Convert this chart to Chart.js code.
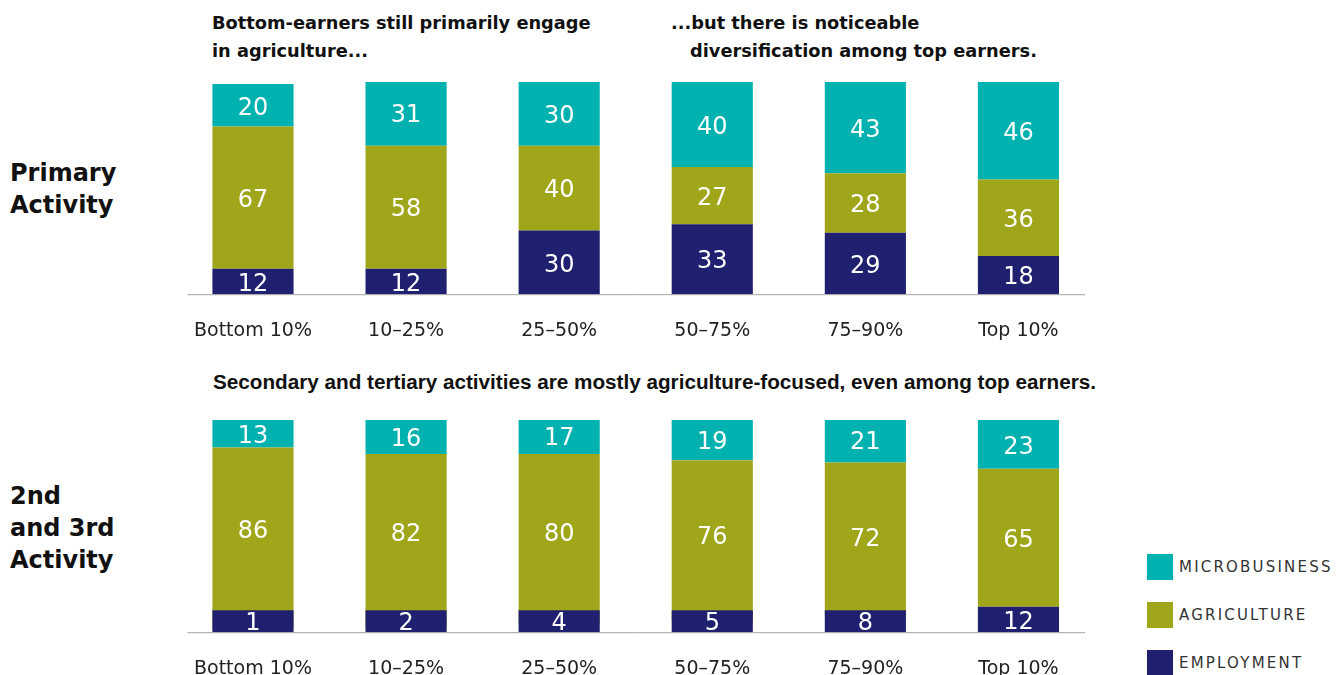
<!DOCTYPE html>
<html>
<head>
<meta charset="utf-8">
<script src="https://cdn.jsdelivr.net/npm/chart.js@4/dist/chart.umd.min.js"></script>
<style>
  html, body { margin: 0; padding: 0; background: #fff; }
  body { width: 1339px; height: 675px; overflow: hidden; position: relative; }
  .abs { position: absolute; white-space: nowrap; }
  .title { font-family: "DejaVu Sans", sans-serif; font-weight: 700; font-size: 17.8px; color: #111; line-height: 28px; }
  .title2 { font-family: "Liberation Sans", sans-serif; font-weight: 700; font-size: 20.7px; color: #111; }
  .row { font-family: "DejaVu Sans", sans-serif; font-weight: 700; font-size: 24px; color: #111; line-height: 32px; }
  .chartbox { position: absolute; left: 169px; width: 926px; height: 285px; }
  .sw { position: absolute; left: 1147px; width: 26px; height: 26px; }
  .lg { position: absolute; left: 1179px; font-family: "DejaVu Sans", sans-serif; font-size: 15px; letter-spacing: 2.2px; color: #333; line-height: 26px; }
</style>
</head>
<body>
<div class="abs title" style="left:212px; top:9px;">Bottom-earners still primarily engage<br>in agriculture...</div>
<div class="abs title" style="left:671px; top:9px;">...but there is noticeable<br><span style="padding-left:19px">diversification among top earners.</span></div>
<div class="abs title2" style="left:213px; top:370px;">Secondary and tertiary activities are mostly agriculture-focused, even among top earners.</div>
<div class="abs row" style="left:10px; top:157px;">Primary<br>Activity</div>
<div class="abs row" style="left:10px; top:480px;">2nd<br>and 3rd<br>Activity</div>

<div class="chartbox" style="top:82px;"><canvas id="c1"></canvas></div>
<div class="chartbox" style="top:420px;"><canvas id="c2"></canvas></div>

<div class="sw" style="top:554px; background:#00B2AF;"></div>
<div class="lg" style="top:554px;">MICROBUSINESS</div>
<div class="sw" style="top:602px; background:#A0A61A;"></div>
<div class="lg" style="top:602px;">AGRICULTURE</div>
<div class="sw" style="top:650px; background:#1F206F;"></div>
<div class="lg" style="top:650px;">EMPLOYMENT</div>

<script>
const categories = ["Bottom 10%", "10\u201325%", "25\u201350%", "50\u201375%", "75\u201390%", "Top 10%"];

const primaryEmployment    = [12, 12, 30, 33, 29, 18];
const primaryAgriculture   = [67, 58, 40, 27, 28, 36];
const primaryMicrobusiness = [20, 31, 30, 40, 43, 46];

const secondaryEmployment    = [1, 2, 4, 5, 8, 12];
const secondaryAgriculture   = [86, 82, 80, 76, 72, 65];
const secondaryMicrobusiness = [13, 16, 17, 19, 21, 23];

const COLORS = { employment: "#1F206F", agriculture: "#A0A61A", micro: "#00B2AF" };

const valueLabels = {
  id: "valueLabels",
  afterDatasetsDraw(chart) {
    const ctx = chart.ctx;
    ctx.save();
    ctx.fillStyle = "#fff";
    ctx.font = '24px "DejaVu Sans", sans-serif';
    ctx.textAlign = "center";
    ctx.textBaseline = "middle";
    chart.data.datasets.forEach((ds, i) => {
      const meta = chart.getDatasetMeta(i);
      meta.data.forEach((el, j) => {
        let base = el.base;
        if (i > 0) {
          const below = chart.getDatasetMeta(i - 1).data[j];
          base = Math.min(base, below.y);
        }
        const y = (el.y + base) / 2 + 3;
        ctx.fillText(String(ds.values[j]), el.x, y);
      });
    });
    ctx.restore();
  }
};

const baseline = {
  id: "baseline",
  beforeDatasetsDraw(chart) {
    const a = chart.chartArea;
    const ctx = chart.ctx;
    ctx.save();
    ctx.strokeStyle = "#a3a3a3";
    ctx.lineWidth = 1;
    ctx.beginPath();
    ctx.moveTo(a.left + 11, a.bottom + 0.5);
    ctx.lineTo(a.right - 10, a.bottom + 0.5);
    ctx.stroke();
    ctx.restore();
  }
};

function makeChart(id, emp, agr, mic) {
  // floating segments built from the arrays: [start, end] of each stacked piece
  const empBars = emp.map(v => [0, v]);
  const agrBars = emp.map((v, i) => [v, v + agr[i]]);
  const micBars = emp.map((v, i) => [v + agr[i], v + agr[i] + mic[i]]);
  return new Chart(document.getElementById(id), {
    type: "bar",
    data: {
      labels: categories,
      datasets: [
        { label: "EMPLOYMENT", data: empBars, values: emp, backgroundColor: COLORS.employment, minBarLength: 22 },
        { label: "AGRICULTURE", data: agrBars, values: agr, backgroundColor: COLORS.agriculture },
        { label: "MICROBUSINESS", data: micBars, values: mic, backgroundColor: COLORS.micro }
      ]
    },
    options: {
      responsive: true,
      maintainAspectRatio: false,
      animation: false,
      layout: { padding: 0 },
      datasets: { bar: { barPercentage: 0.53, categoryPercentage: 1, borderWidth: 0, borderSkipped: false } },
      plugins: { legend: { display: false }, tooltip: { enabled: false } },
      scales: {
        x: {
          stacked: true,
          grid: { display: false, drawTicks: false },
          border: { display: false },
          ticks: { color: "#222", padding: 25, font: { family: '"DejaVu Sans", sans-serif', size: 19 } }
        },
        y: { stacked: false, display: false, min: 0, max: 100 }
      }
    },
    plugins: [baseline, valueLabels]
  });
}

makeChart("c1", primaryEmployment, primaryAgriculture, primaryMicrobusiness);
makeChart("c2", secondaryEmployment, secondaryAgriculture, secondaryMicrobusiness);
</script>
</body>
</html>
